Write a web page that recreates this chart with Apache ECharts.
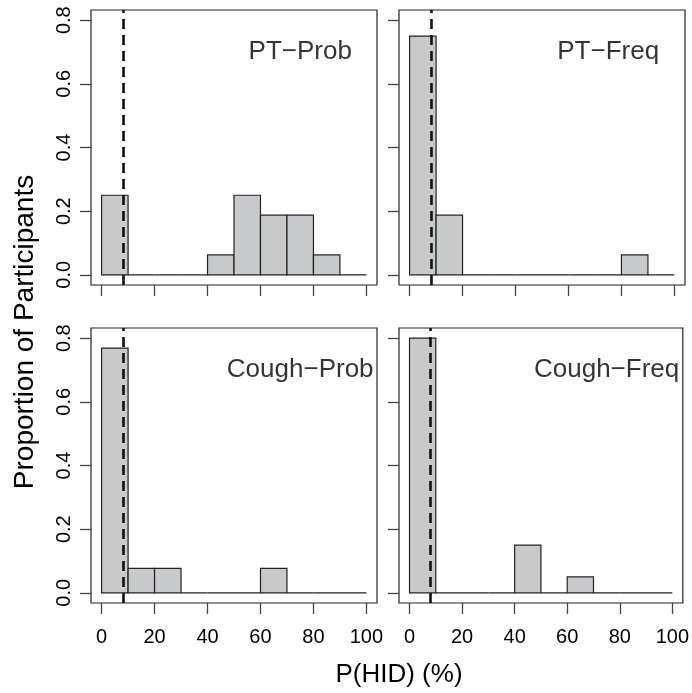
<!DOCTYPE html>
<html>
<head>
<meta charset="utf-8">
<script src="https://cdn.jsdelivr.net/npm/echarts@6/dist/echarts.min.js"></script>
<style>
  html, body { margin: 0; padding: 0; background: #fff; }
  #chart { width: 692px; height: 693px; }
</style>
</head>
<body>
<div id="chart"></div>
<script>
// histogram bins (P(HID) %, 10-wide)
const binStarts = [0, 10, 20, 30, 40, 50, 60, 70, 80, 90];
const binWidth = 10;

// proportion of participants per bin
const ptProb = [0.25, 0, 0, 0, 0.0625, 0.25, 0.1875, 0.1875, 0.0625, 0];
const ptFreq = [0.75, 0.1875, 0, 0, 0, 0, 0, 0, 0.0625, 0];
const coughProb = [0.769, 0.077, 0.077, 0, 0, 0, 0.077, 0, 0, 0];
const coughFreq = [0.8, 0, 0, 0, 0.15, 0, 0.05, 0, 0, 0];

const panelNames = ['PT\u2212Prob', 'PT\u2212Freq', 'Cough\u2212Prob', 'Cough\u2212Freq'];
const panelValues = [ptProb, ptFreq, coughProb, coughFreq];

const xTicks = [0, 20, 40, 60, 80, 100];
const yTicks = [0, 0.2, 0.4, 0.6, 0.8];
const cutoff = 8; // dashed reference line

const myChart = echarts.init(document.getElementById('chart'));
const font = 'Liberation Sans, Arial, Helvetica, sans-serif';

const gridPos = [
  { left: 91, top: 10 },
  { left: 399, top: 10 },
  { left: 91, top: 328 },
  { left: 399, top: 328 }
];

const grids = [], xAxes = [], yAxes = [], series = [];

gridPos.forEach(function (g, i) {
  const bottomRow = i >= 2;
  const leftCol = i % 2 === 0;
  grids.push({
    left: g.left, top: g.top, width: 286, height: 275,
    show: true, borderColor: '#222', borderWidth: 1.2, backgroundColor: 'transparent'
  });
  xAxes.push({
    gridIndex: i, type: 'value', min: -4, max: 104,
    splitLine: { show: false },
    axisLine: { show: false, onZero: false },
    axisTick: {
      show: true, inside: false, customValues: xTicks, length: 11,
      lineStyle: { color: '#444', width: 1.3 }
    },
    axisLabel: {
      show: bottomRow, customValues: xTicks, margin: 24,
      fontSize: 20, color: '#000', fontFamily: font
    }
  });
  yAxes.push({
    gridIndex: i, type: 'value', min: -0.032, max: 0.832,
    splitLine: { show: false },
    axisLine: { show: false, onZero: false },
    axisTick: {
      show: true, inside: false, customValues: yTicks, length: 11,
      lineStyle: { color: '#444', width: 1.3 }
    },
    axisLabel: {
      show: leftCol, customValues: yTicks, rotate: 90, margin: 17,
      fontSize: 20, color: '#000', fontFamily: font,
      formatter: function (v) { return v.toFixed(1); }
    }
  });

  const data = binStarts.map(function (s, k) {
    return [s, s + binWidth, panelValues[i][k]];
  });
  series.push({
    type: 'custom',
    xAxisIndex: i, yAxisIndex: i,
    data: data,
    encode: { x: [0, 1], y: 2 },
    renderItem: function (params, api) {
      const p0 = api.coord([api.value(0), 0]);
      const p1 = api.coord([api.value(1), api.value(2)]);
      return {
        type: 'rect',
        shape: { x: p0[0], y: p1[1], width: p1[0] - p0[0], height: p0[1] - p1[1] },
        style: { fill: '#c8c9cb', stroke: '#222', lineWidth: 1.2 }
      };
    },
    markLine: {
      silent: true, symbol: 'none',
      label: { show: false },
      lineStyle: { color: '#111', width: 2.6, type: [10, 6] },
      data: [{ xAxis: cutoff }]
    },
    z: 2
  });
  series.push({
    type: 'scatter',
    xAxisIndex: i, yAxisIndex: i,
    symbolSize: 0,
    data: [[75, 0.7]],
    label: {
      show: true, position: 'inside', formatter: panelNames[i],
      fontSize: 26, color: '#000', fontFamily: font
    },
    z: 3
  });
});

const option = {
  animation: false,
  backgroundColor: '#fff',
  grid: grids,
  xAxis: xAxes,
  yAxis: yAxes,
  series: series,
  graphic: [
    {
      type: 'text', x: 25, y: 332, rotation: Math.PI / 2,
      style: {
        text: 'Proportion of Participants', fontSize: 28, fill: '#000',
        fontFamily: font, align: 'center', verticalAlign: 'middle'
      }
    },
    {
      type: 'text', x: 399, y: 675,
      style: {
        text: 'P(HID) (%)', fontSize: 26, fill: '#000',
        fontFamily: font, align: 'center', verticalAlign: 'middle'
      }
    }
  ]
};
myChart.setOption(option);
</script>
</body>
</html>
